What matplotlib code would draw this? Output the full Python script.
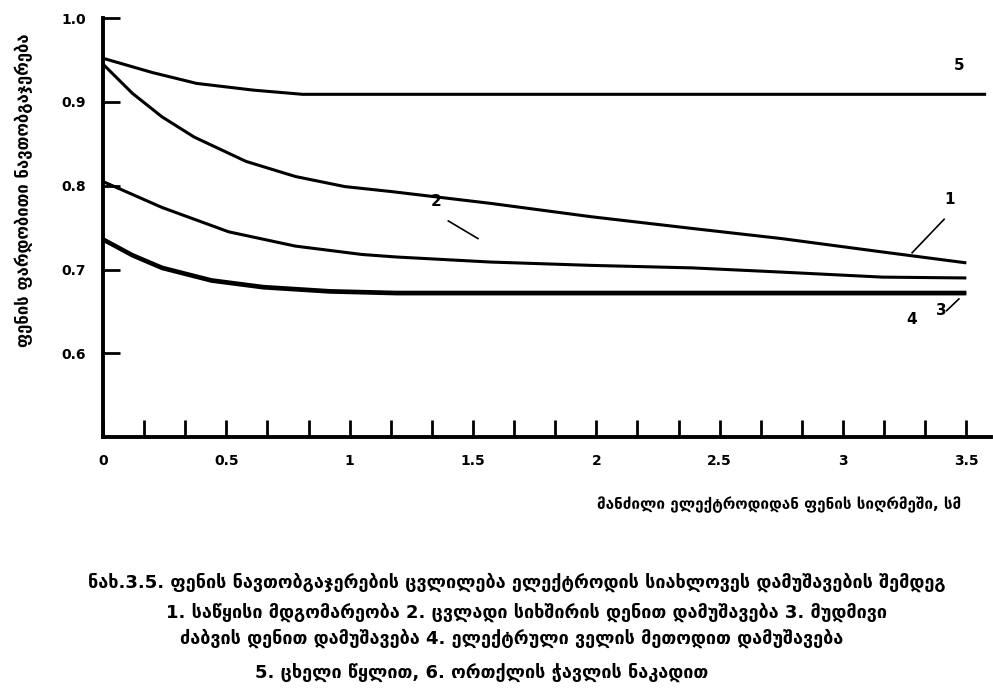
import matplotlib
matplotlib.use("Agg")
import matplotlib.pyplot as plt
import numpy as np

plt.rcParams['font.family'] = ['DejaVu Sans']

# ---- data ----
x1 = [0.0, 0.12, 0.24, 0.37, 0.58, 0.78, 0.98, 1.17, 1.57, 1.98, 2.39, 2.75, 3.16, 3.5]
y1 = [0.945, 0.910, 0.882, 0.858, 0.829, 0.811, 0.799, 0.793, 0.779, 0.763, 0.749, 0.737, 0.721, 0.708]

x2 = [0.0, 0.24, 0.51, 0.78, 1.05, 1.19, 1.57, 1.98, 2.39, 2.75, 3.16, 3.5]
y2 = [0.805, 0.774, 0.745, 0.728, 0.718, 0.715, 0.709, 0.705, 0.702, 0.697, 0.691, 0.690]

x3 = [0.0, 0.12, 0.24, 0.44, 0.65, 0.92, 1.19, 2.0, 3.0, 3.5]
y3 = [0.737, 0.718, 0.703, 0.688, 0.680, 0.675, 0.673, 0.673, 0.673, 0.673]

x4 = [0.0, 0.12, 0.24, 0.44, 0.65, 0.92, 1.19, 2.0, 3.0, 3.5]
y4 = [0.735, 0.716, 0.701, 0.686, 0.678, 0.673, 0.671, 0.671, 0.671, 0.671]

x5 = [0.0, 0.20, 0.38, 0.61, 0.81, 1.5, 2.5, 3.58]
y5 = [0.952, 0.935, 0.922, 0.914, 0.909, 0.909, 0.909, 0.909]

curve_labels = ["1", "2", "3", "4", "5"]

xticks = [0, 0.5, 1, 1.5, 2, 2.5, 3, 3.5]
xticklabels = ["0", "0.5", "1", "1.5", "2", "2.5", "3", "3.5"]
yticks = [0.6, 0.7, 0.8, 0.9, 1.0]
yticklabels = ["0.6", "0.7", "0.8", "0.9", "1.0"]

ylabel = "ფენის ფარდობითი ნავთობგაჯერება"
xlabel = "მანძილი ელექტროდიდან ფენის სიღრმეში, სმ"
caption = [
    "ნახ.3.5. ფენის ნავთობგაჯერების ცვლილება ელექტროდის სიახლოვეს დამუშავების შემდეგ",
    "1. საწყისი მდგომარეობა 2. ცვლადი სიხშირის დენით დამუშავება 3. მუდმივი",
    "ძაბვის დენით დამუშავება 4. ელექტრული ველის მეთოდით დამუშავება",
    "5. ცხელი წყლით, 6. ორთქლის ჭავლის ნაკადით",
]

# ---- figure ----
fig = plt.figure(figsize=(9.93, 6.93), dpi=100)
ax = fig.add_axes([0.1037, 0.369, 0.8943, 0.605])

lw = 2.2
for xs, ys in [(x1, y1), (x2, y2), (x3, y3), (x4, y4), (x5, y5)]:
    ax.plot(xs, ys, color="black", lw=lw, solid_capstyle="butt")

ax.set_xlim(0, 3.6)
ax.set_ylim(0.5, 1.0)
for s in ["top", "right"]:
    ax.spines[s].set_visible(False)
ax.spines["left"].set_linewidth(2.8)
ax.spines["bottom"].set_linewidth(2.8)

ax.set_xticks(xticks)
ax.set_xticklabels(xticklabels, fontsize=10, fontweight="bold")
ax.set_xticks(np.arange(1, 22) / 6.0, minor=True)
ax.tick_params(axis="x", which="both", direction="in", length=12, width=2.0, pad=12)
ax.tick_params(axis="x", which="minor", labelbottom=False)
ax.set_yticks(yticks)
ax.set_yticklabels(yticklabels, fontsize=10, fontweight="bold")
ax.tick_params(axis="y", direction="in", length=12, width=2.0, pad=12)

# curve labels and leaders
ax.text(3.47, 0.943, curve_labels[4], fontsize=11, fontweight="bold", ha="center", va="center")
ax.text(3.43, 0.783, curve_labels[0], fontsize=11, fontweight="bold", ha="center", va="center")
ax.plot([3.28, 3.41], [0.720, 0.760], color="black", lw=1.2)
ax.text(1.35, 0.781, curve_labels[1], fontsize=11, fontweight="bold", ha="center", va="center")
ax.plot([1.40, 1.52], [0.758, 0.737], color="black", lw=1.2)
ax.text(3.28, 0.640, curve_labels[3], fontsize=11, fontweight="bold", ha="center", va="center")
ax.text(3.40, 0.651, curve_labels[2], fontsize=11, fontweight="bold", ha="center", va="center")
ax.plot([3.42, 3.47], [0.651, 0.665], color="black", lw=1.2)

fig.text(0.024, 0.725, ylabel, rotation=90, fontsize=12, fontweight="bold", ha="center", va="center")
fig.text(0.785, 0.271, xlabel, fontsize=11, fontweight="bold", ha="center", va="center")

cy = [0.159, 0.117, 0.079, 0.030]
cx = [0.52, 0.53, 0.515, 0.485]
for t, yy, xx in zip(caption, cy, cx):
    fig.text(xx, yy, t, fontsize=13, fontweight="bold", ha="center", va="center")

fig.savefig("out.png", dpi=100)
